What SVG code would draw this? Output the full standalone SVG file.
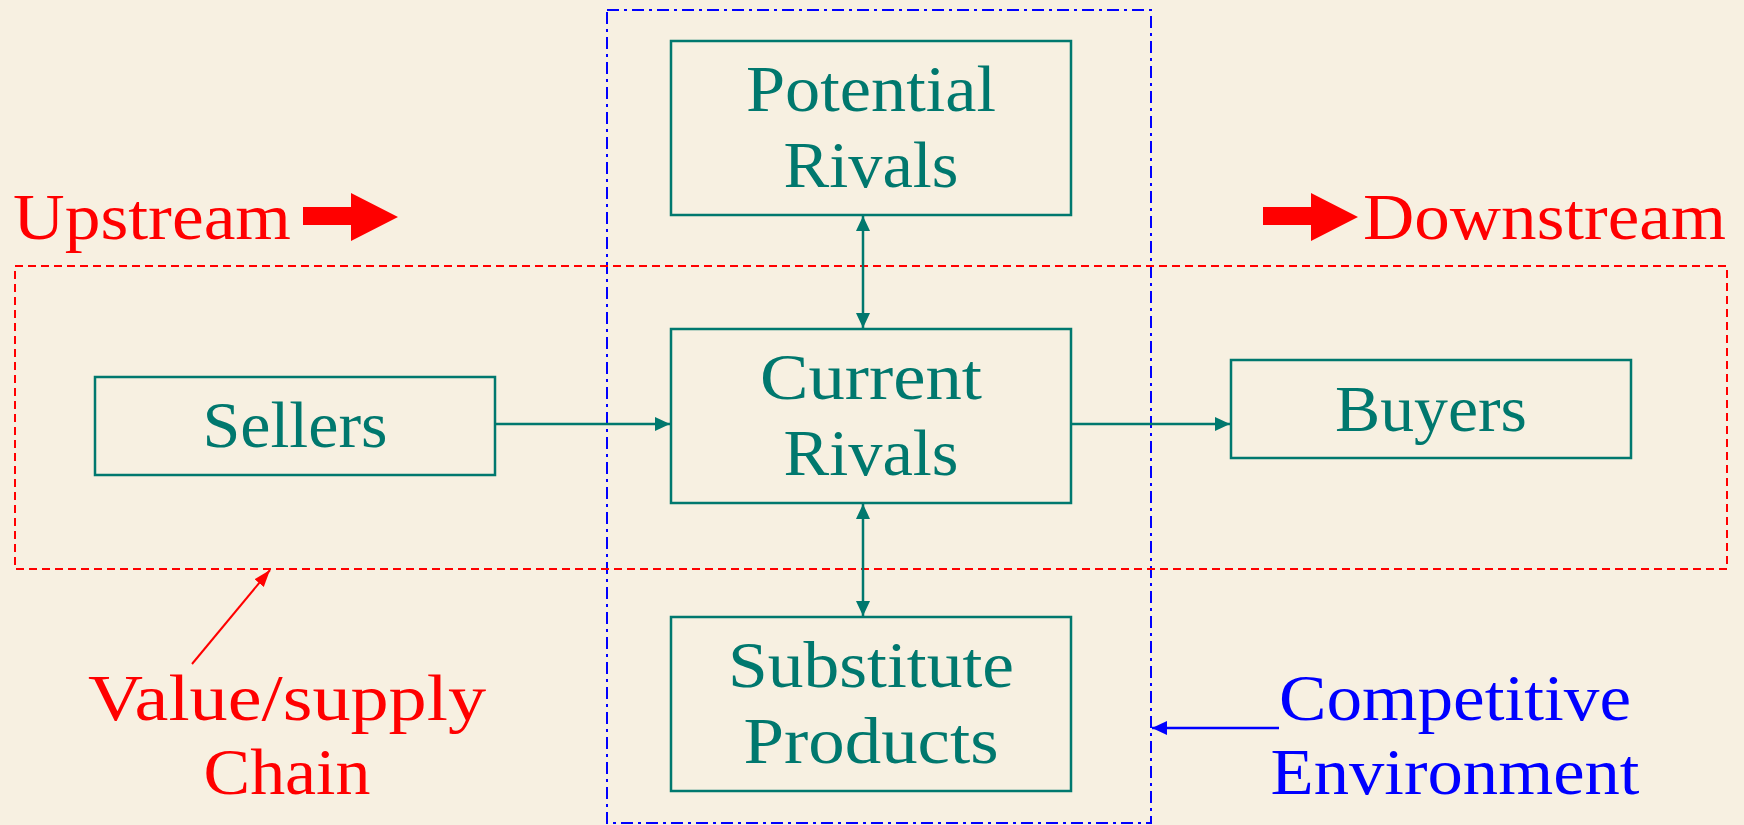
<svg xmlns="http://www.w3.org/2000/svg" width="1744" height="825" viewBox="0 0 1744 825">
<defs>
<style>
.box{fill:none;stroke:#00786E;stroke-width:2.5}
.t{font-family:"Liberation Serif","DejaVu Serif",serif;font-size:66px;fill:#00786E;text-anchor:middle}
.r{font-family:"Liberation Serif","DejaVu Serif",serif;font-size:66px;fill:#FF0000}
.b{font-family:"Liberation Serif","DejaVu Serif",serif;font-size:66px;fill:#0000FF;text-anchor:middle}
.conn{stroke:#00786E;stroke-width:2.5;fill:none}
</style>
<marker id="ah" markerUnits="userSpaceOnUse" markerWidth="16" markerHeight="14" refX="15" refY="7" orient="auto-start-reverse" viewBox="0 0 16 14">
<path d="M0,0 L15,7 L0,14 z" fill="#00786E"/>
</marker>
<marker id="ahr" markerUnits="userSpaceOnUse" markerWidth="18" markerHeight="14" refX="17" refY="7" orient="auto" viewBox="0 0 18 14">
<path d="M0,1 L17,7 L0,13 z" fill="#FF0000"/>
</marker>
<marker id="ahb" markerUnits="userSpaceOnUse" markerWidth="16" markerHeight="14" refX="15" refY="7" orient="auto" viewBox="0 0 16 14">
<path d="M0,0 L15,7 L0,14 z" fill="#0000FF"/>
</marker>
</defs>
<rect width="1744" height="825" fill="#F7F0E1"/>

<g id="competitive-environment">
<rect x="607" y="10" width="544" height="813" fill="none" stroke="#0000FF" stroke-width="2" stroke-dasharray="12 5 3 5"/>
</g>
<g id="value-chain">
<rect x="15" y="266" width="1712" height="303" fill="none" stroke="#FF0000" stroke-width="2" stroke-dasharray="8 5"/>
</g>

<g id="upstream">
<text class="r" x="13" y="239" textLength="278" lengthAdjust="spacingAndGlyphs">Upstream</text>
<polygon points="303,207 351,207 351,193 398,217 351,241 351,225 303,225" fill="#FF0000"/>
</g>
<g id="downstream">
<polygon points="1263,207 1311,207 1311,193 1358,217 1311,241 1311,225 1263,225" fill="#FF0000"/>
<text class="r" x="1363" y="239" textLength="363" lengthAdjust="spacingAndGlyphs">Downstream</text>
</g>

<g id="potential-rivals">
<rect class="box" x="671" y="41" width="400" height="174"/>
<text class="t" x="871" y="111" textLength="250" lengthAdjust="spacingAndGlyphs">Potential</text>
<text class="t" x="871" y="187" textLength="175" lengthAdjust="spacingAndGlyphs">Rivals</text>
</g>
<g id="current-rivals">
<rect class="box" x="671" y="329" width="400" height="174"/>
<text class="t" x="871" y="399" textLength="222" lengthAdjust="spacingAndGlyphs">Current</text>
<text class="t" x="871" y="475" textLength="175" lengthAdjust="spacingAndGlyphs">Rivals</text>
</g>
<g id="substitute-products">
<rect class="box" x="671" y="617" width="400" height="174"/>
<text class="t" x="871" y="687" textLength="286" lengthAdjust="spacingAndGlyphs">Substitute</text>
<text class="t" x="871" y="763" textLength="255" lengthAdjust="spacingAndGlyphs">Products</text>
</g>
<g id="sellers">
<rect class="box" x="95" y="377" width="400" height="98"/>
<text class="t" x="295" y="447" textLength="185" lengthAdjust="spacingAndGlyphs">Sellers</text>
</g>
<g id="buyers">
<rect class="box" x="1231" y="360" width="400" height="98"/>
<text class="t" x="1431" y="431" textLength="192" lengthAdjust="spacingAndGlyphs">Buyers</text>
</g>

<g id="value-chain-label">
<text class="r" x="287" y="720" text-anchor="middle" textLength="398" lengthAdjust="spacingAndGlyphs">Value/supply</text>
<text class="r" x="287" y="794" text-anchor="middle" textLength="167" lengthAdjust="spacingAndGlyphs">Chain</text>
</g>
<g id="competitive-label">
<text class="b" x="1455" y="720" textLength="352" lengthAdjust="spacingAndGlyphs">Competitive</text>
<text class="b" x="1455" y="794" textLength="369" lengthAdjust="spacingAndGlyphs">Environment</text>
</g>

<g id="connectors">
<line class="conn" x1="495" y1="424" x2="670" y2="424" marker-end="url(#ah)"/>
<line class="conn" x1="1071" y1="424" x2="1230" y2="424" marker-end="url(#ah)"/>
<line class="conn" x1="863" y1="216" x2="863" y2="328" marker-start="url(#ah)" marker-end="url(#ah)"/>
<line class="conn" x1="863" y1="504" x2="863" y2="616" marker-start="url(#ah)" marker-end="url(#ah)"/>
<line x1="192" y1="664" x2="270" y2="570" stroke="#FF0000" stroke-width="2" marker-end="url(#ahr)"/>
<line x1="1279" y1="728" x2="1152" y2="728" stroke="#0000FF" stroke-width="2.5" marker-end="url(#ahb)"/>
</g>
</svg>
